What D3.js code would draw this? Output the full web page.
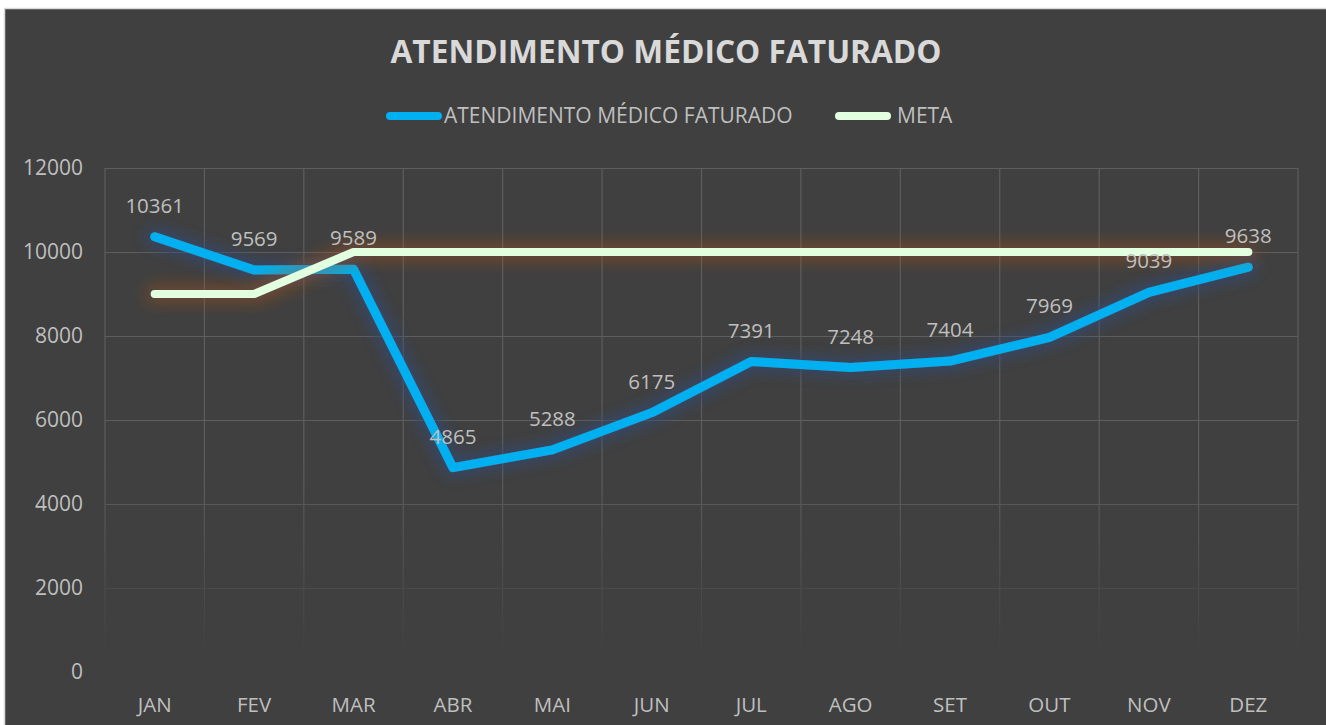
<!DOCTYPE html>
<html>
<head>
<meta charset="utf-8">
<script src="https://cdn.jsdelivr.net/npm/d3@7"></script>
<style>
  body { margin: 0; background: #ffffff; }
  text { font-family: "Open Sans", sans-serif; }
</style>
</head>
<body>
<script>
// chart data
var months = ["JAN", "FEV", "MAR", "ABR", "MAI", "JUN", "JUL", "AGO", "SET", "OUT", "NOV", "DEZ"];
var faturado = [10361, 9569, 9589, 4865, 5288, 6175, 7391, 7248, 7404, 7969, 9039, 9638];
var meta = [9000, 9000, 10000, 10000, 10000, 10000, 10000, 10000, 10000, 10000, 10000, 10000];
var yTicks = [0, 2000, 4000, 6000, 8000, 10000, 12000];
var titleText = "ATENDIMENTO MÉDICO FATURADO";
var seriesNames = ["ATENDIMENTO MÉDICO FATURADO", "META"];

var W = 1326, H = 725;
var margin = {top: 168, right: 28, bottom: 53, left: 105},
    width = W - margin.left - margin.right,
    height = H - margin.top - margin.bottom;

var root = d3.select("body").append("svg")
    .attr("width", W)
    .attr("height", H);

// filters for the soft glow under each line
var defs = root.append("defs");
function glow(id, color, op, dil, blur) {
  var f = defs.append("filter").attr("id", id)
      .attr("filterUnits", "userSpaceOnUse")
      .attr("x", -50).attr("y", -100).attr("width", width + 100).attr("height", height + 200);
  f.append("feFlood").attr("flood-color", color).attr("flood-opacity", op).attr("result", "c");
  f.append("feComposite").attr("in", "c").attr("in2", "SourceAlpha").attr("operator", "in").attr("result", "s");
  f.append("feMorphology").attr("in", "s").attr("operator", "dilate").attr("radius", dil).attr("result", "d");
  f.append("feGaussianBlur").attr("in", "d").attr("stdDeviation", blur).attr("result", "b");
  var m = f.append("feMerge");
  m.append("feMergeNode").attr("in", "b");
  m.append("feMergeNode").attr("in", "SourceGraphic");
}
glow("glowBlue", "#2e4a7a", 0.7, 4, 7);
glow("glowOrange", "#b4541c", 0.45, 4, 8);

// fade-out mask for the gridlines near the bottom
var grad = defs.append("linearGradient").attr("id", "fade")
    .attr("gradientUnits", "userSpaceOnUse")
    .attr("x1", 0).attr("y1", 0).attr("x2", 0).attr("y2", height);
grad.append("stop").attr("offset", 0.6).attr("stop-color", "#fff").attr("stop-opacity", 1);
grad.append("stop").attr("offset", 0.98).attr("stop-color", "#fff").attr("stop-opacity", 0);
defs.append("mask").attr("id", "gridMask")
    .attr("maskUnits", "userSpaceOnUse")
    .attr("x", -5).attr("y", -5).attr("width", width + 10).attr("height", height + 10)
  .append("rect")
    .attr("x", -5).attr("y", -5).attr("width", width + 10).attr("height", height + 10)
    .attr("fill", "url(#fade)");

// chart background and border
root.append("rect")
    .attr("x", 4.5).attr("y", 8.5)
    .attr("width", W).attr("height", H)
    .attr("fill", "#404040")
    .attr("stroke", "#d9d9d9")
    .attr("stroke-width", 1.5);

var svg = root.append("g")
    .attr("transform", "translate(" + margin.left + "," + margin.top + ")");

var x = d3.scaleBand().domain(months).range([0, width]);
var y = d3.scaleLinear().domain([0, 12000]).range([height, 0]);
function cx(d, i) { return x(months[i]) + x.bandwidth() / 2; }

// gridlines
var grid = svg.append("g").attr("mask", "url(#gridMask)");
grid.selectAll(".hg").data(yTicks).enter().append("line")
    .attr("x1", 0).attr("x2", width)
    .attr("y1", function(d) { return Math.round(y(d)) + 0.5; })
    .attr("y2", function(d) { return Math.round(y(d)) + 0.5; })
    .attr("stroke", "#5e5e5e").attr("stroke-width", 1.2);
grid.selectAll(".vg").data(d3.range(months.length + 1)).enter().append("line")
    .attr("x1", function(i) { return i * x.step(); })
    .attr("x2", function(i) { return i * x.step(); })
    .attr("y1", 0).attr("y2", height)
    .attr("stroke", "#5e5e5e").attr("stroke-width", 1.2);

// y axis labels
svg.append("g")
    .call(d3.axisLeft(y).tickValues(yTicks).tickSize(0).tickPadding(22).tickFormat(d3.format("d")))
    .call(function(g) { g.select(".domain").remove(); })
    .selectAll("text")
    .style("font-family", "'Open Sans', sans-serif")
    .attr("font-size", 21).attr("fill", "#bfbfbf");

// x axis labels
svg.append("g")
    .attr("transform", "translate(0," + height + ")")
    .call(d3.axisBottom(x).tickSize(0).tickPadding(25))
    .call(function(g) { g.select(".domain").remove(); })
    .selectAll("text")
    .style("font-family", "'Open Sans', sans-serif")
    .attr("font-size", 20.5).attr("fill", "#bfbfbf");

var line = d3.line().x(cx).y(function(d) { return y(d); });

// lines (blue first, meta on top)
svg.append("path").datum(faturado)
    .attr("d", line)
    .attr("fill", "none")
    .attr("stroke", "#00b0f0")
    .attr("stroke-width", 9)
    .attr("stroke-linecap", "round")
    .attr("stroke-linejoin", "round")
    .attr("filter", "url(#glowBlue)");

svg.append("path").datum(meta)
    .attr("d", line)
    .attr("fill", "none")
    .attr("stroke", "#e2ffe0")
    .attr("stroke-width", 8)
    .attr("stroke-linecap", "round")
    .attr("stroke-linejoin", "round")
    .attr("filter", "url(#glowOrange)");

// data labels
svg.selectAll(".lbl").data(faturado).enter().append("text")
    .attr("x", cx)
    .attr("y", function(d) { return y(d) - 24; })
    .attr("text-anchor", "middle")
    .attr("font-size", 20.5)
    .attr("fill", "#bfbfbf")
    .text(function(d) { return d; });

// title
root.append("text")
    .attr("x", 666).attr("y", 63)
    .attr("text-anchor", "middle")
    .attr("font-size", 31.7).attr("font-weight", "bold")
    .attr("fill", "#d9d9d9")
    .text(titleText);

// legend
var legend = root.append("g");
var legendItems = [
  {name: seriesNames[0], color: "#00b0f0", x: 386, tx: 444},
  {name: seriesNames[1], color: "#e2ffe0", x: 835, tx: 897}
];
legendItems.forEach(function(it) {
  legend.append("line")
      .attr("x1", it.x + 4).attr("x2", it.x + 52)
      .attr("y1", 116).attr("y2", 116)
      .attr("stroke", it.color).attr("stroke-width", 8)
      .attr("stroke-linecap", "round");
  legend.append("text")
      .attr("x", it.tx).attr("y", 123)
      .attr("font-size", 21).attr("fill", "#bfbfbf")
      .text(it.name);
});
</script>
</body>
</html>
